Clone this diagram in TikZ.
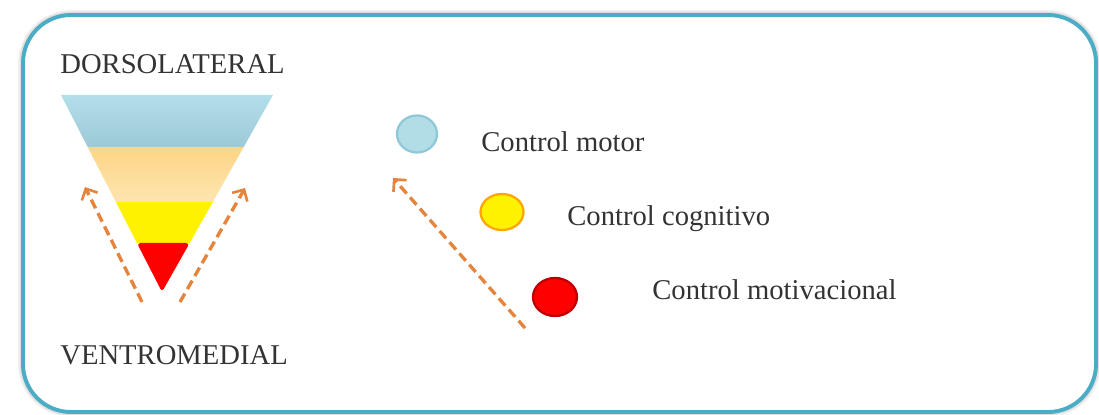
\documentclass[tikz,border=0pt]{standalone}
\usepackage{fontspec}
\setmainfont{Liberation Serif}
\usetikzlibrary{arrows.meta,shapes.geometric}
\definecolor{frame}{HTML}{4BACC6}
\definecolor{arr}{HTML}{E5843A}
\definecolor{blueA}{HTML}{B3DFEA}
\definecolor{blueB}{HTML}{9CC9D6}
\definecolor{orA}{HTML}{FDD585}
\definecolor{orB}{HTML}{FDE5B0}
\definecolor{dotblue}{HTML}{B2DCE6}
\definecolor{dotblueB}{HTML}{8FC9D9}
\begin{document}
\begin{tikzpicture}[x=0.02cm,y=-0.02cm,
  lbl/.style={font=\fontsize{16.3}{19}\selectfont, inner sep=0pt, anchor=west, text=black!80},
  darrow/.style={draw=arr, line width=1.9pt, dash pattern=on 5.5pt off 3pt,
     -{Straight Barb[length=5pt,width=10pt,line width=1.5pt]}},
  dot/.style={ellipse, line width=1.3pt, inner sep=0pt}]
\useasboundingbox (0,0) rectangle (1099,415);
% shadow
\foreach \w/\o in {10/0.05,7/0.07,4/0.1}
  \draw[black, opacity=\o, line width=\w*0.02cm, rounded corners=0.96cm] (23,15) rectangle (1096,412);
\draw[frame, line width=2.2pt, fill=white, rounded corners=0.96cm] (23,15) rectangle (1096,412);
% labels
\node[lbl] (dl) at (60,64) {DORSOLATERAL};
\node[lbl] (vm) at (60,355) {VENTROMEDIAL};
% funnel
\shade[top color=blueA, bottom color=blueB] (61,95) -- (273,95) -- (243.7,147) -- (87.7,147) -- cycle;
\shade[top color=orA, bottom color=orB] (87.7,147) -- (243.7,147) -- (212.8,202) -- (115.9,202) -- cycle;
\fill[yellow] (115.9,202) -- (212.8,202) -- (189.7,243) -- (136.9,243) -- cycle;
\fill[red, rounded corners=2pt] (136.9,243) -- (189.7,243) -- (162,292) -- cycle;
% funnel arrows
\coordinate (la0) at (142,302); \coordinate (la1) at (85,187);
\coordinate (ra0) at (180,302); \coordinate (ra1) at (245,188);
\draw[darrow] (la0) -- (la1);
\draw[darrow] (ra0) -- (ra1);
% legend
\node[dot, fill=dotblue, draw=dotblueB, minimum width=0.8cm, minimum height=0.74cm] (e1) at (417,134) {};
\node[dot, fill=yellow, draw=orange!70!yellow, minimum width=0.86cm, minimum height=0.72cm] (e2) at (502,212) {};
\node[dot, fill=red, draw=red!75!black, minimum width=0.88cm, minimum height=0.76cm] (e3) at (555,297) {};
\node[lbl] (t1) at (481,142) {Control motor};
\node[lbl] (t2) at (567,219) {Control cognitivo};
\node[lbl] (t3) at (652,290) {Control motivacional};
\coordinate (ma0) at (525,328); \coordinate (ma1) at (393,178);
\draw[darrow] (ma0) -- (ma1);
\end{tikzpicture}
\end{document}
